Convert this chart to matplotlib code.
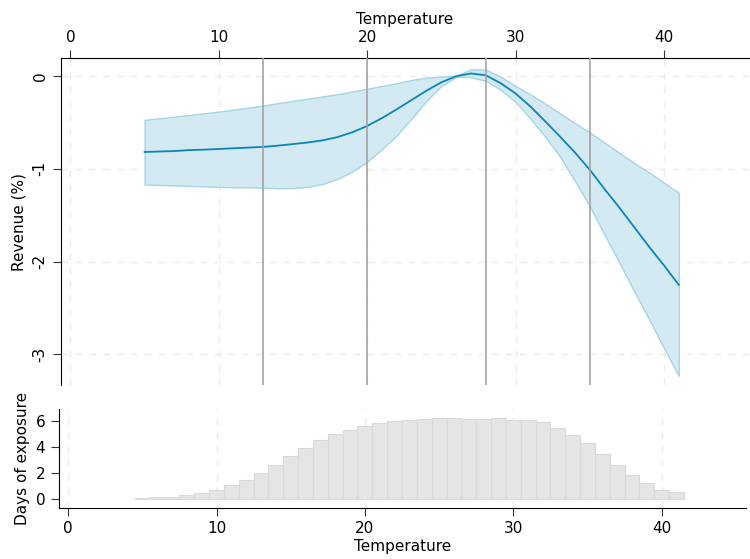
import numpy as np
import matplotlib
matplotlib.use('Agg')
import matplotlib.pyplot as plt

# response curve
temp = [5, 6, 7, 8, 9, 10, 11, 12, 13, 14, 15, 16, 17, 18, 19, 20, 21, 22, 23,
        24, 25, 26, 27, 28, 29, 30, 31, 32, 33, 34, 35, 36, 37, 38, 39, 40, 41]
est = [-0.82, -0.815, -0.81, -0.80, -0.795, -0.788, -0.78, -0.773, -0.765, -0.752,
       -0.735, -0.718, -0.695, -0.66, -0.608, -0.54, -0.455, -0.36, -0.26, -0.16,
       -0.07, -0.005, 0.025, 0.005, -0.08, -0.19, -0.33, -0.49, -0.655, -0.825, -1.01,
       -1.22, -1.42, -1.63, -1.84, -2.04, -2.25]
upper = [-0.475, -0.457, -0.44, -0.422, -0.404, -0.385, -0.365, -0.343, -0.32,
         -0.295, -0.27, -0.246, -0.222, -0.198, -0.17, -0.14, -0.11, -0.08,
         -0.045, -0.02, -0.008, 0.0, 0.07, 0.065, -0.01, -0.11, -0.2, -0.3, -0.405,
         -0.51, -0.61, -0.72, -0.83, -0.94, -1.04, -1.15, -1.26]
lower = [-1.17, -1.175, -1.18, -1.185, -1.19, -1.195, -1.2, -1.2, -1.205, -1.21,
         -1.21, -1.195, -1.165, -1.11, -1.03, -0.925, -0.79, -0.64, -0.46, -0.27,
         -0.11, -0.01, -0.015, -0.055, -0.15, -0.28, -0.46, -0.655, -0.87, -1.13,
         -1.40, -1.71, -2.01, -2.32, -2.62, -2.93, -3.23]
cuts = [13, 20, 28, 35]

# exposure histogram
bins = list(range(5, 42))
days = [0.05, 0.1, 0.15, 0.3, 0.44, 0.67, 1.06, 1.45, 2.0, 2.6, 3.3, 3.93, 4.55,
        5.0, 5.33, 5.64, 5.85, 6.02, 6.1, 6.18, 6.26, 6.26, 6.16, 6.16, 6.26, 6.1,
        6.08, 5.95, 5.48, 4.94, 4.32, 3.47, 2.6, 1.83, 1.2, 0.67, 0.52]

fig = plt.figure(figsize=(7.5, 5.59), dpi=100)
ax1 = fig.add_axes([0.081, 0.311, 0.917, 0.585])
ax2 = fig.add_axes([0.078, 0.091, 0.917, 0.177])

gridkw = dict(color='#ebebeb', lw=1, ls=(0, (5, 5)), zorder=0)
xl = (-0.65, 45.7)

# top panel
for v in [0, 10, 20, 30, 40]:
    ax1.axvline(v, **gridkw)
for v in [0, -1, -2, -3]:
    ax1.axhline(v, **gridkw)
ax1.fill_between(temp, lower, upper, facecolor='#d4eaf3', edgecolor='#a6d4e6', lw=1, zorder=2)
ax1.plot(temp, est, color='#0a85b8', lw=1.3, zorder=3)
for c in cuts:
    ax1.axvline(c, color='#a3a3a3', lw=1.2, zorder=4)
ax1.set_xlim(xl)
ax1.set_ylim(-3.33, 0.19)
ax1.xaxis.tick_top()
ax1.xaxis.set_label_position('top')
ax1.set_xticks([0, 10, 20, 30, 40])
ax1.set_yticks([0, -1, -2, -3])
ax1.set_yticklabels(['0', '-1', '-2', '-3'], rotation=90, va='center')
ax1.set_xlabel('Temperature', fontsize=11, labelpad=4)
ax1.set_ylabel('Revenue (%)', fontsize=11)
for s in ['bottom', 'right']:
    ax1.spines[s].set_visible(False)
ax1.tick_params(labelsize=11, length=6, color='#333333')

# bottom panel
for v in [0, 10, 20, 30, 40]:
    ax2.axvline(v, **gridkw)
ax2.bar(bins, days, width=1, color='#e5e5e5', edgecolor='#dadada', lw=0.8, zorder=2)
ax2.set_xlim(xl)
ax2.set_ylim(-0.74, 6.95)
ax2.set_xticks([0, 10, 20, 30, 40])
ax2.set_yticks([0, 2, 4, 6])
ax2.set_xlabel('Temperature', fontsize=11, labelpad=2)
ax2.set_ylabel('Days of exposure', fontsize=11)
for s in ['top', 'right']:
    ax2.spines[s].set_visible(False)
ax2.tick_params(labelsize=11, length=6, color='#333333')

fig.align_ylabels([ax1, ax2])
fig.savefig('out.png', dpi=100)
